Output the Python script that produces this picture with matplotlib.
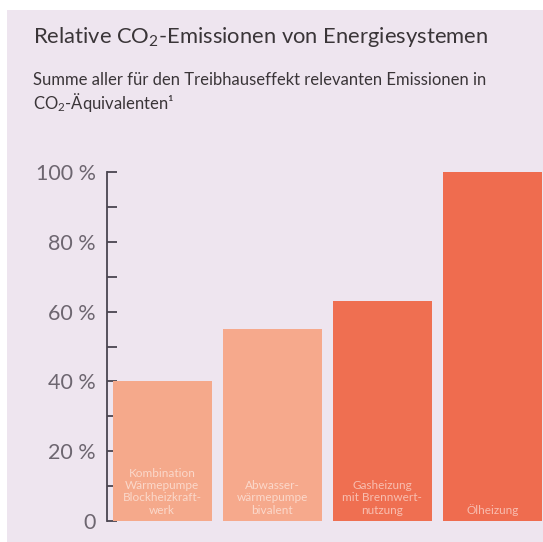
import matplotlib.pyplot as plt
from matplotlib.patches import Rectangle

plt.rcParams['font.family'] = ['Lato', 'DejaVu Sans']
plt.rcParams['mathtext.fontset'] = 'custom'
plt.rcParams['mathtext.rm'] = 'Lato'
plt.rcParams['mathtext.it'] = 'Lato'

bg = '#eee5ef'
text_dark = '#3a3538'
tick_grey = '#6d6670'

categories = ['Kombination\nWärmepumpe\nBlockheizkraft-\nwerk',
              'Abwasser-\nwärmepumpe\nbivalent',
              'Gasheizung\nmit Brennwert-\nnutzung',
              'Ölheizung']
values = [40, 55, 63, 100]
bar_colors = ['#f5a98b', '#f6a98c', '#ef6f51', '#ef6c4f']
major_ticks = [0, 20, 40, 60, 80, 100]
tick_labels = ['0', '20 %', '40 %', '60 %', '80 %', '100 %']
minor_ticks = [10, 30, 50, 70, 90]

fig = plt.figure(figsize=(5.43, 5.42), dpi=100)
fig.patch.set_facecolor('white')
fig.patches.append(Rectangle((7 / 543, 0), 1, 1 - 10 / 542, transform=fig.transFigure,
                             facecolor=bg, edgecolor='none', zorder=-10))

fig.text(33 / 543, 1 - 37 / 542, r'Relative CO$_2$-Emissionen von Energiesystemen',
         fontsize=15.8, color=text_dark, va='center', ha='left')
fig.text(33 / 543, 1 - 80 / 542, 'Summe aller für den Treibhauseffekt relevanten Emissionen in',
         fontsize=12, color=text_dark, va='center', ha='left')
fig.text(33 / 543, 1 - 103 / 542, r'CO$_2$-Äquivalenten¹',
         fontsize=12, color=text_dark, va='center', ha='left')

ax = fig.add_axes([107 / 543, 1 - 521 / 542, 436 / 543, 349 / 542])
ax.set_facecolor('none')
x = list(range(len(values)))
ax.bar(x, values, width=0.9, color=bar_colors, zorder=2)
for i, lab in enumerate(categories):
    ax.text(x[i], 1.5, lab, ha='center', va='bottom', fontsize=8.5,
            color='white', alpha=0.55, linespacing=1.15, zorder=3)

ax.set_xlim(-0.5, 3.46)
ax.set_ylim(0, 100)
for s in ['top', 'right', 'bottom']:
    ax.spines[s].set_visible(False)
ax.spines['left'].set_color('#4a4550')
ax.spines['left'].set_linewidth(1.3)
ax.set_xticks([])
ax.set_yticks(major_ticks)
ax.set_yticklabels(tick_labels)
ax.set_yticks(minor_ticks, minor=True)
ax.tick_params(axis='y', which='both', direction='in', length=7, width=1.3,
               color='#4a4550', labelsize=15.5, labelcolor=tick_grey, pad=8)

fig.savefig('out.png', dpi=100, facecolor='white')
